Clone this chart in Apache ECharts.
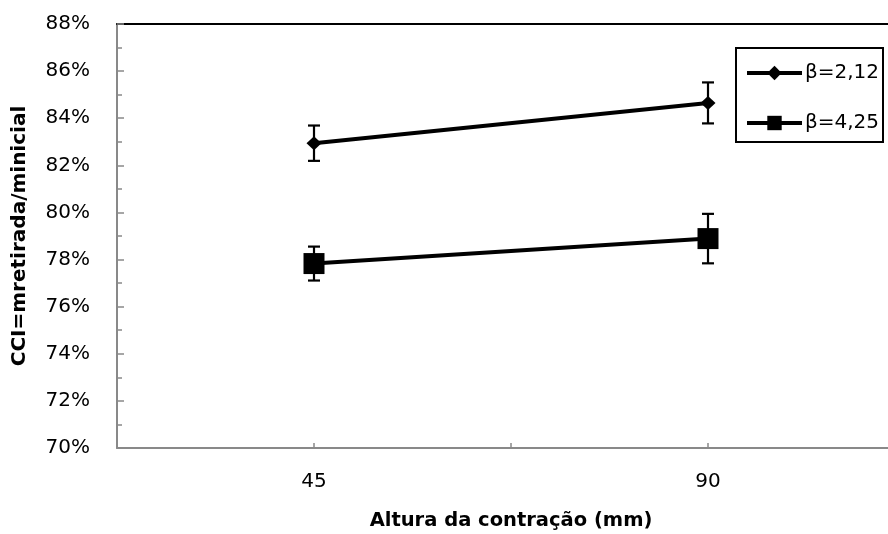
<!DOCTYPE html>
<html>
<head>
<meta charset="utf-8">
<script src="https://cdn.jsdelivr.net/npm/echarts@6/dist/echarts.min.js"></script>
<style>html,body{margin:0;padding:0;background:#fff}#c{width:888px;height:534px}</style>
</head>
<body>
<div id="c"></div>
<script>
// Data
var heights = [45, 90];                       // Altura da contração (mm)
var seriesNames = ['β=2,12', 'β=4,25'];
var beta212 = [82.94, 84.65];                 // CCI (%)
var beta212Err = [0.75, 0.87];                // ± error (%)
var beta425 = [77.83, 78.89];                 // CCI (%)
var beta425Err = [0.72, 1.05];                // ± error (%)
var yTicks = [70, 72, 74, 76, 78, 80, 82, 84, 86, 88];

var FONT = 'DejaVu Sans';

function pts(vals) { return heights.map(function (h, i) { return [h, vals[i]]; }); }
function errs(vals, e) { return heights.map(function (h, i) { return [h, vals[i] - e[i], vals[i] + e[i]]; }); }

function errRender(params, api) {
  var x = api.value(0);
  var lo = api.coord([x, api.value(1)]);
  var hi = api.coord([x, api.value(2)]);
  var cap = 6;
  var st = { stroke: '#000', lineWidth: 2.2 };
  return {
    type: 'group',
    children: [
      { type: 'line', shape: { x1: lo[0], y1: lo[1], x2: hi[0], y2: hi[1] }, style: st },
      { type: 'line', shape: { x1: lo[0] - cap, y1: lo[1], x2: lo[0] + cap, y2: lo[1] }, style: st },
      { type: 'line', shape: { x1: hi[0] - cap, y1: hi[1], x2: hi[0] + cap, y2: hi[1] }, style: st }
    ]
  };
}

var chart = echarts.init(document.getElementById('c'), null, { renderer: 'canvas' });
chart.setOption({
  animation: false,
  backgroundColor: '#fff',
  textStyle: { fontFamily: FONT },
  grid: { left: 117, top: 24, width: 788, height: 424, outerBoundsMode: 'none', containLabel: false },
  xAxis: [{
    type: 'value', min: 22.5, max: 112.5, interval: 22.5,
    name: 'Altura da contração (mm)', nameLocation: 'middle', nameGap: 63,
    nameTextStyle: { fontFamily: FONT, fontWeight: 'bold', fontSize: 19.5, color: '#000' },
    axisLine: { show: true, lineStyle: { color: '#898989', width: 2 } },
    axisTick: { show: true, inside: true, length: 5, lineStyle: { color: '#898989', width: 1.5 } },
    axisLabel: {
      fontFamily: FONT, fontSize: 20, color: '#000', margin: 24,
      formatter: function (v) { return heights.indexOf(v) >= 0 ? String(v) : ''; }
    },
    splitLine: { show: false }
  }, {
    type: 'value', position: 'top', min: 22.5, max: 112.5, interval: 22.5,
    axisLine: { show: true, onZero: false, lineStyle: { color: '#000', width: 2 } },
    axisTick: { show: false }, axisLabel: { show: false }, splitLine: { show: false }
  }],
  yAxis: {
    type: 'value', min: yTicks[0], max: yTicks[yTicks.length - 1], interval: 2,
    name: 'CCI=mretirada/minicial', nameLocation: 'middle', nameGap: 87,
    nameTextStyle: { fontFamily: FONT, fontWeight: 'bold', fontSize: 20, color: '#000' },
    axisLine: { show: true, lineStyle: { color: '#898989', width: 2 } },
    axisTick: { show: true, inside: true, length: 7, lineStyle: { color: '#898989', width: 1.5 } },
    minorTick: { show: true, splitNumber: 2, length: 5, lineStyle: { color: '#898989', width: 1.5 } },
    axisLabel: { fontFamily: FONT, fontSize: 20, color: '#000', margin: 27, formatter: '{value}%' },
    splitLine: { show: false }
  },
  legend: {
    orient: 'vertical', left: 745, top: 63, padding: 0,
    itemWidth: 55, itemHeight: 18, itemGap: 30,
    lineStyle: { width: 4, color: '#000' },
    textStyle: { fontFamily: FONT, fontSize: 20, color: '#000', padding: [0, 0, 0, -2] },
    data: seriesNames
  },
  graphic: [{
    type: 'rect', left: 735, top: 47, z: -1,
    shape: { width: 147, height: 94 },
    style: { fill: '#fff', stroke: '#000', lineWidth: 2 }
  }],
  series: [
    { type: 'custom', name: 'err1', renderItem: errRender, data: errs(beta212, beta212Err), z: 1, silent: true },
    { type: 'custom', name: 'err2', renderItem: errRender, data: errs(beta425, beta425Err), z: 1, silent: true },
    {
      type: 'line', name: seriesNames[0], data: pts(beta212), z: 3,
      symbol: 'diamond', symbolSize: [15, 14],
      lineStyle: { color: '#000', width: 4 }, itemStyle: { color: '#000' }
    },
    {
      type: 'line', name: seriesNames[1], data: pts(beta425), z: 3,
      symbol: 'rect', symbolSize: 21,
      lineStyle: { color: '#000', width: 4 }, itemStyle: { color: '#000' }
    }
  ]
});
</script>
</body>
</html>
